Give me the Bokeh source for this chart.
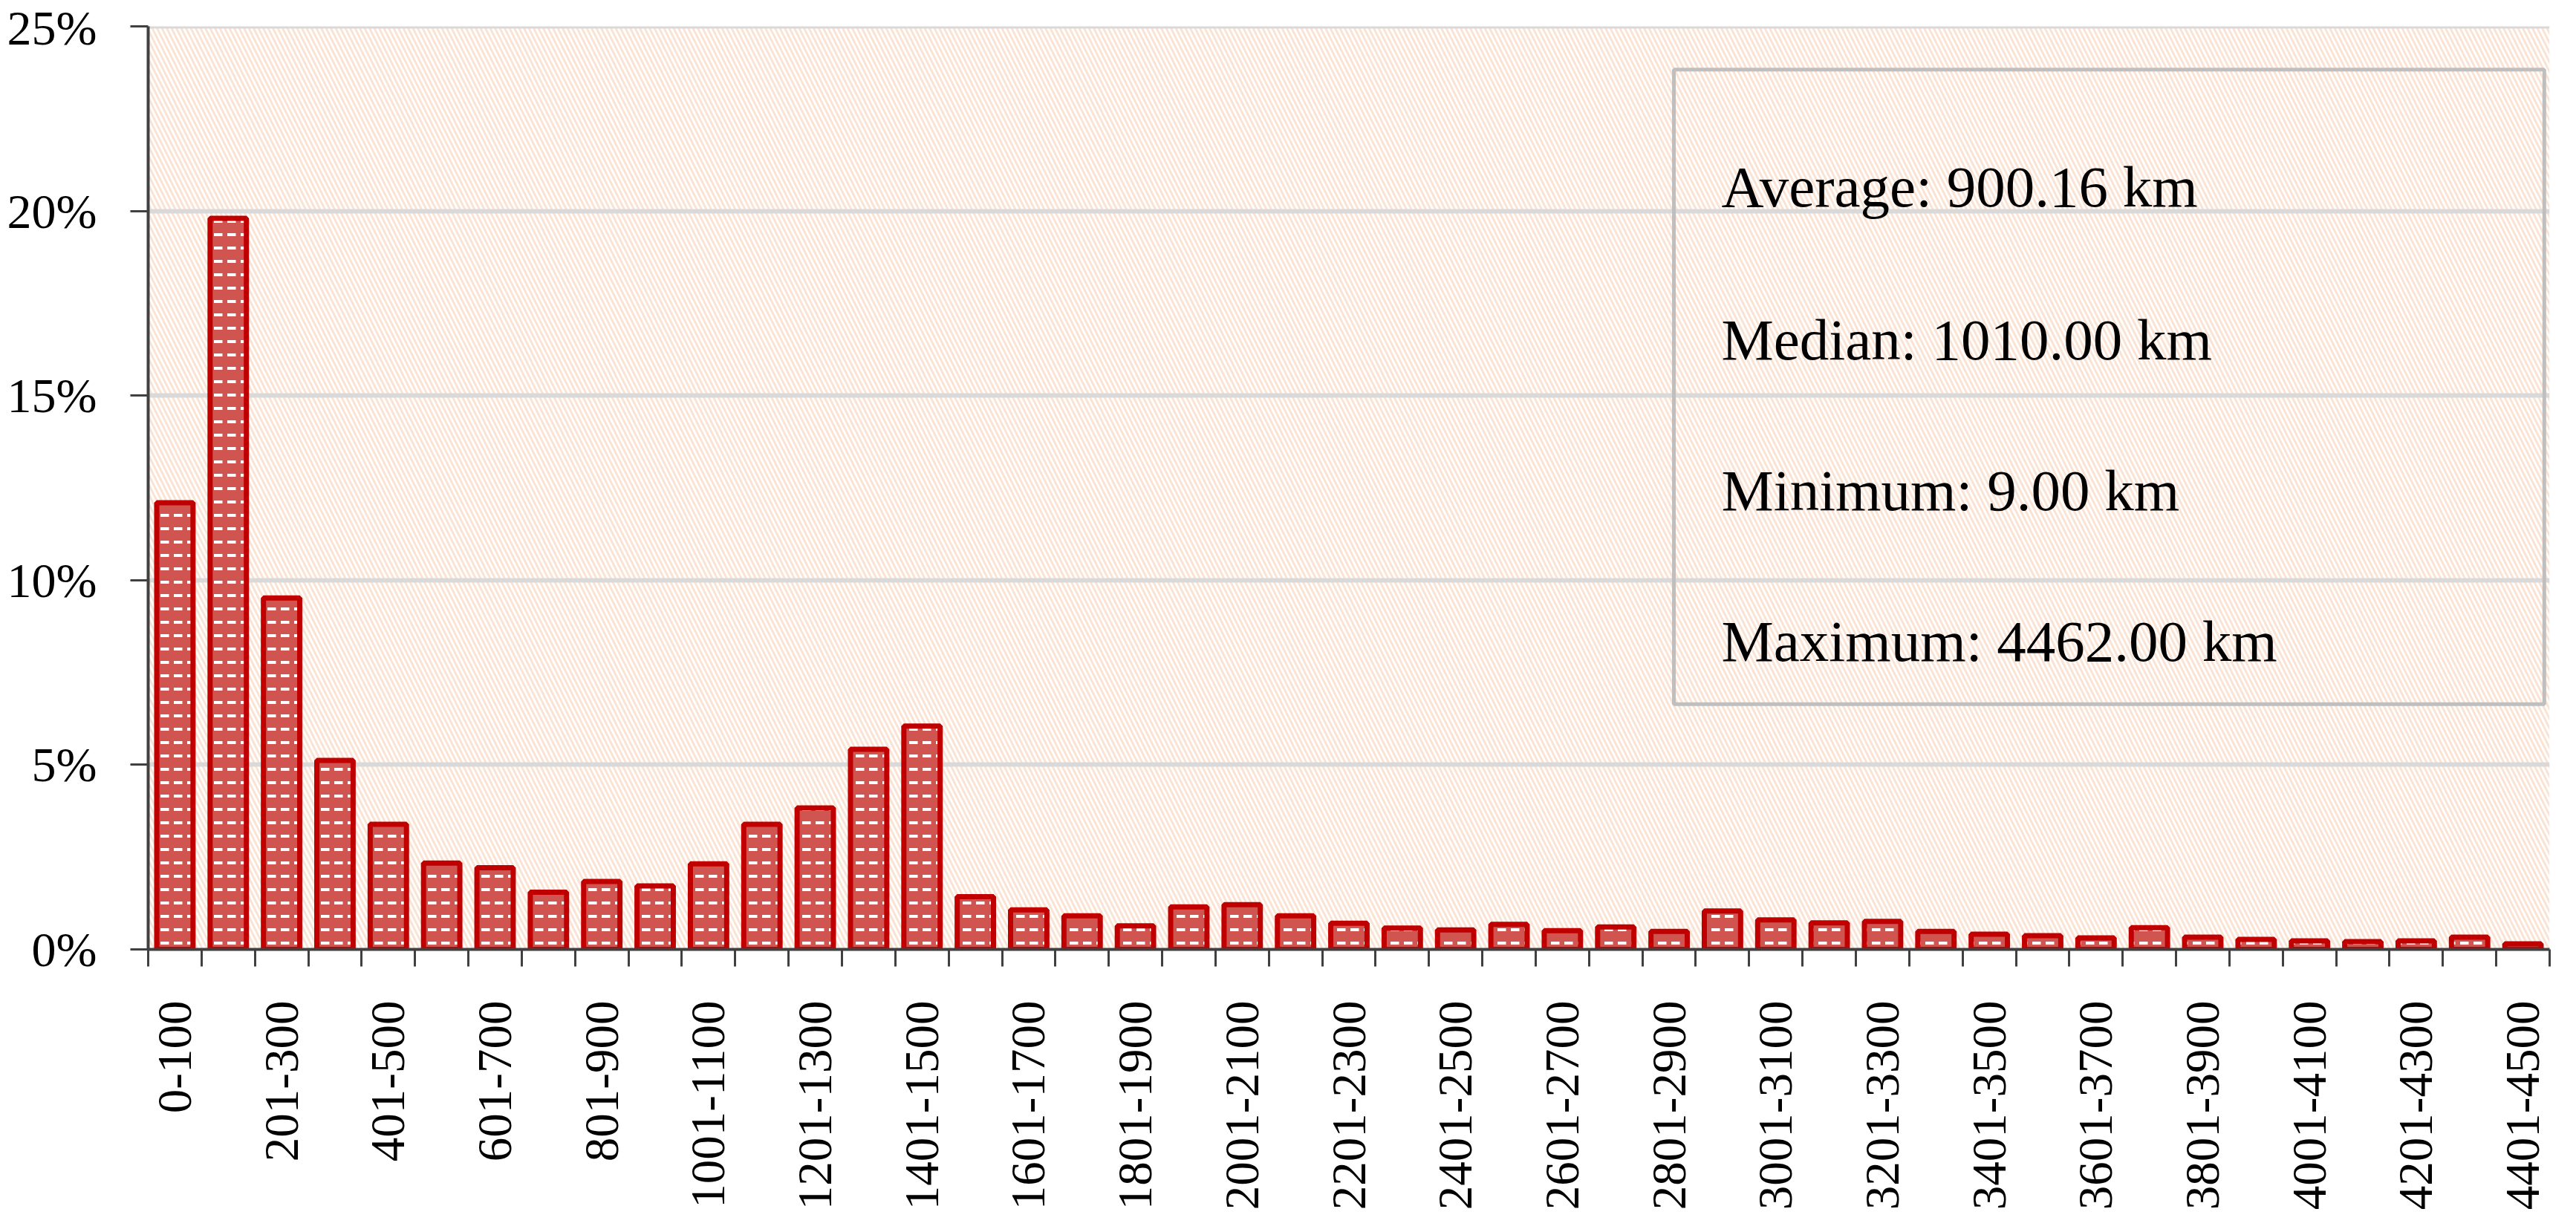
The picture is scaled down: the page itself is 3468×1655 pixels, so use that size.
import math
from bokeh.plotting import figure
from bokeh.models import (Range1d, FixedTicker, BoxAnnotation, Label, Span,
                          PrintfTickFormatter, ColumnDataSource)
from bokeh.embed import file_html
from bokeh.resources import INLINE

# ---------------- data ----------------
categories = [
    "0-100", "101-200", "201-300", "301-400", "401-500", "501-600",
    "601-700", "701-800", "801-900", "901-1000", "1001-1100", "1101-1200",
    "1201-1300", "1301-1400", "1401-1500", "1501-1600", "1601-1700",
    "1701-1800", "1801-1900", "1901-2000", "2001-2100", "2101-2200",
    "2201-2300", "2301-2400", "2401-2500", "2501-2600", "2601-2700",
    "2701-2800", "2801-2900", "2901-3000", "3001-3100", "3101-3200",
    "3201-3300", "3301-3400", "3401-3500", "3501-3600", "3601-3700",
    "3701-3800", "3801-3900", "3901-4000", "4001-4100", "4101-4200",
    "4201-4300", "4301-4400", "4401-4500",
]
share_pct = [
    12.1, 19.8, 9.52, 5.12, 3.39, 2.34, 2.21, 1.55, 1.84, 1.72,
    2.32, 3.39, 3.83, 5.42, 6.05, 1.43, 1.07, 0.91, 0.64, 1.15,
    1.21, 0.91, 0.71, 0.58, 0.53, 0.68, 0.51, 0.61, 0.49, 1.04,
    0.80, 0.72, 0.76, 0.49, 0.41, 0.37, 0.31, 0.59, 0.33, 0.27,
    0.23, 0.21, 0.23, 0.33, 0.15,
]
y_ticks = [0, 5, 10, 15, 20, 25]
stats_lines = [
    "Average: 900.16 km",
    "Median: 1010.00 km",
    "Minimum: 9.00 km",
    "Maximum: 4462.00 km",
]

FONT = "Liberation Serif"
n = len(categories)
centers = [i + 0.5 for i in range(n)]

p = figure(
    frame_width=3233, frame_height=1243,
    min_border_left=199, min_border_right=20,
    min_border_top=35, min_border_bottom=361,
    x_range=Range1d(0, n), y_range=Range1d(0, 25),
    output_backend="svg", toolbar_location=None,
    background_fill_color="white", border_fill_color="white",
)
p.outline_line_color = None

# background hatch of the plot area
bg = BoxAnnotation(fill_alpha=0, line_alpha=0,
                   hatch_pattern="left_diagonal_line", hatch_color="#fbe3d4",
                   hatch_alpha=1.0, hatch_scale=13, hatch_weight=3,
                   level="image")
p.add_layout(bg)

# grid
p.xgrid.visible = False
p.ygrid.grid_line_color = "#d9d9d9"
p.ygrid.grid_line_width = 6
p.ygrid.ticker = FixedTicker(ticks=y_ticks)
p.add_layout(Span(location=25, dimension="width", line_color="#d9d9d9",
                  line_width=6, level="underlay"))

# bars
src = ColumnDataSource(dict(x=centers, top=share_pct, cat=categories))
p.vbar(x="x", top="top", bottom=0, width=0.68, source=src,
       fill_color="#d0544f", line_color="#c00000", line_width=7,
       hatch_pattern="horizontal_dash", hatch_color="white",
       hatch_scale=18, hatch_weight=4)

# x axis: ticks between categories, labels every other category
xa = p.xaxis[0]
label_pos = [centers[i] for i in range(0, n, 2)]
xa.ticker = FixedTicker(ticks=label_pos, minor_ticks=list(range(n + 1)))
xa.major_label_overrides = {centers[i]: categories[i] for i in range(0, n, 2)}
xa.major_label_orientation = math.pi / 2
xa.major_tick_out = 0
xa.major_tick_in = 0
xa.minor_tick_out = 23
xa.minor_tick_in = 0
xa.minor_tick_line_color = "#404040"
xa.minor_tick_line_width = 3
xa.axis_line_color = "#404040"
xa.axis_line_width = 4
xa.major_label_standoff = 46
xa.major_label_text_font = FONT
xa.major_label_text_font_size = "65px"
xa.major_label_text_color = "black"

# y axis
ya = p.yaxis[0]
ya.ticker = FixedTicker(ticks=y_ticks)
ya.formatter = PrintfTickFormatter(format="%d%%")
ya.minor_tick_out = 0
ya.minor_tick_in = 0
ya.major_tick_out = 24
ya.major_tick_in = 0
ya.major_tick_line_color = "#404040"
ya.major_tick_line_width = 3
ya.axis_line_color = "#404040"
ya.axis_line_width = 4
ya.major_label_standoff = 45
ya.major_label_text_font = FONT
ya.major_label_text_font_size = "66px"
ya.major_label_text_color = "black"

# statistics box
box = BoxAnnotation(left=28.59, right=44.9, top=23.83, bottom=6.64,
                    fill_alpha=0, line_color="#bfbfbf", line_alpha=1.0,
                    line_width=5)
p.add_layout(box)
for txt, yb in zip(stats_lines, [20.66, 16.51, 12.43, 8.35]):
    p.add_layout(Label(x=29.48, y=yb, text=txt, text_font=FONT,
                       text_font_size="79px", text_color="black",
                       text_baseline="alphabetic", text_align="left"))

open("out.html", "w").write(file_html(p, INLINE))
